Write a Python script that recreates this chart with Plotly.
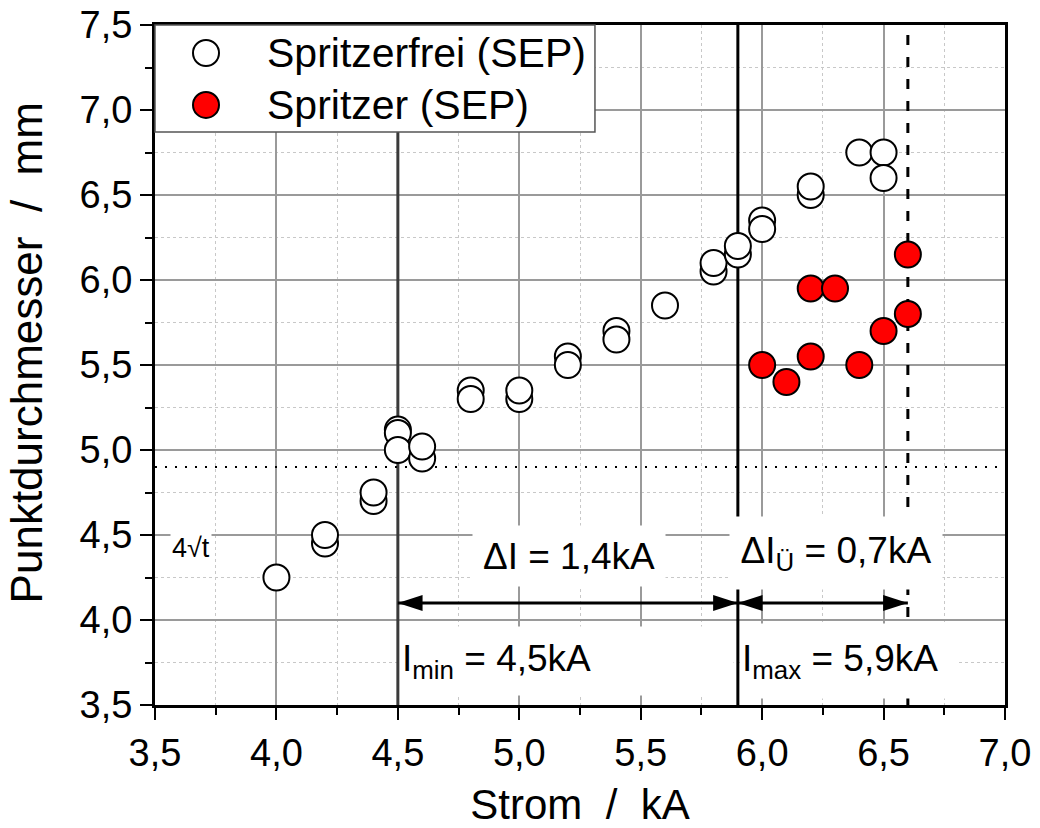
import plotly.graph_objects as go

# ---- data ----
free_x = [4.0, 4.2, 4.2, 4.4, 4.4, 4.5, 4.5, 4.5, 4.6, 4.6, 4.8, 4.8, 5.0, 5.0,
          5.2, 5.2, 5.4, 5.4, 5.6, 5.8, 5.8, 5.9, 5.9, 6.0, 6.0, 6.2, 6.2, 6.4, 6.5, 6.5]
free_y = [4.25, 4.45, 4.50, 4.70, 4.75, 5.12, 5.10, 5.00, 4.95, 5.02, 5.35, 5.30, 5.30, 5.35,
          5.55, 5.50, 5.70, 5.65, 5.85, 6.05, 6.10, 6.15, 6.20, 6.35, 6.30, 6.50, 6.55, 6.75, 6.75, 6.60]

spl_x = [6.0, 6.1, 6.2, 6.2, 6.3, 6.4, 6.5, 6.6, 6.6]
spl_y = [5.50, 5.40, 5.55, 5.95, 5.95, 5.50, 5.70, 5.80, 6.15]

x_tickvals = [3.5, 4.0, 4.5, 5.0, 5.5, 6.0, 6.5, 7.0]
x_ticktext = ["3,5", "4,0", "4,5", "5,0", "5,5", "6,0", "6,5", "7,0"]
y_tickvals = [3.5, 4.0, 4.5, 5.0, 5.5, 6.0, 6.5, 7.0, 7.5]
y_ticktext = ["3,5", "4,0", "4,5", "5,0", "5,5", "6,0", "6,5", "7,0", "7,5"]

i_min = 4.5
i_max = 5.9
i_ue = 6.6
d_limit = 4.9
arrow_y = 4.1

names = ["Spritzerfrei (SEP)", "Spritzer (SEP)"]

FONT = "Liberation Sans, Arial, sans-serif"

fig = go.Figure()
fig.add_trace(go.Scatter(x=free_x, y=free_y, mode="markers", name=names[0], showlegend=False,
                         marker=dict(size=26, color="white", line=dict(color="black", width=2))))
fig.add_trace(go.Scatter(x=spl_x, y=spl_y, mode="markers", name=names[1], showlegend=False,
                         marker=dict(size=26, color="#ff0000", line=dict(color="black", width=2))))

# double-headed dimension arrows
for a0, a1 in [(i_min, i_max), (i_max, i_ue)]:
    fig.add_trace(go.Scatter(x=[a0, a1], y=[arrow_y, arrow_y], mode="lines+markers", showlegend=False,
                             hoverinfo="skip", line=dict(color="black", width=3),
                             marker=dict(symbol="arrow", size=26, angle=[-90, 90], color="black",
                                         line=dict(width=0))))

shapes = [
    dict(type="line", xref="x", yref="y", x0=i_min, x1=i_min, y0=3.5, y1=7.5,
         line=dict(color="#3a3a3a", width=3), layer="between"),
    dict(type="line", xref="x", yref="y", x0=i_max, x1=i_max, y0=3.5, y1=7.5,
         line=dict(color="black", width=3), layer="between"),
    dict(type="line", xref="x", yref="y", x0=i_ue, x1=i_ue, y0=3.5, y1=7.5,
         line=dict(color="black", width=3, dash="10px,12px"), layer="between"),
    dict(type="line", xref="x", yref="y", x0=3.5, x1=7.0, y0=d_limit, y1=d_limit,
         line=dict(color="black", width=2, dash="2px,8px"), layer="between"),
    # custom legend box
    dict(type="rect", xref="paper", yref="paper", x0=0.0, x1=0.5176, y0=0.8426, y1=1.0,
         fillcolor="white", line=dict(color="#555555", width=1.5), layer="above"),
]
leg_y = [0.9588, 0.8824]
leg_fill = ["white", "#ff0000"]
for yy, fc in zip(leg_y, leg_fill):
    shapes.append(dict(type="circle", xref="paper", yref="paper", xsizemode="pixel", ysizemode="pixel",
                       xanchor=0.06, yanchor=yy, x0=-13, x1=13, y0=-13, y1=13,
                       fillcolor=fc, line=dict(color="black", width=2), layer="above"))

annotations = []
for yy, nm in zip(leg_y, names):
    annotations.append(dict(xref="paper", yref="paper", x=0.1294, y=yy, text=nm, showarrow=False,
                            xanchor="left", yanchor="middle", font=dict(size=41, color="black", family=FONT)))

box_font = dict(size=37, color="black", family=FONT)
annotations += [
    dict(xref="x", yref="y", x=5.2027, y=4.376, text="ΔI = 1,4kA", showarrow=False,
         bgcolor="white", width=190, height=58, font=box_font),
    dict(xref="x", yref="y", x=6.304, y=4.394, text="ΔI<sub>Ü</sub> = 0,7kA", showarrow=False,
         bgcolor="white", width=210, height=70, font=box_font),
    dict(xref="x", yref="y", x=i_min + 0.008, y=3.759, text="I<sub>min</sub> = 4,5kA", showarrow=False,
         xanchor="left", align="left", bgcolor="white", width=330, height=66, font=box_font),
    dict(xref="x", yref="y", x=i_max + 0.008, y=3.76, text="I<sub>max</sub> = 5,9kA", showarrow=False,
         xanchor="left", align="left", bgcolor="white", width=215, height=72, font=box_font),
    dict(xref="x", yref="y", x=3.56, y=4.424, text="4√t", showarrow=False, xanchor="left",
         bgcolor="white", font=dict(size=27, color="black", family=FONT)),
]

axis_common = dict(
    showline=True, linecolor="black", linewidth=3, mirror=True,
    ticks="outside", ticklen=12, tickwidth=2, tickcolor="black",
    showgrid=True, gridcolor="#9a9a9a", gridwidth=1.5,
    zeroline=False, automargin=False,
    tickfont=dict(size=38, color="black", family=FONT),
    minor=dict(dtick=0.25, ticks="outside", ticklen=7, tickwidth=2, tickcolor="black",
               showgrid=True, gridcolor="#c8c8c8", gridwidth=1, griddash="3px,3px"),
)

fig.update_layout(
    width=1040, height=828,
    margin=dict(l=155, r=35, t=25, b=123),
    paper_bgcolor="white", plot_bgcolor="white",
    font=dict(family=FONT, color="black"),
    shapes=shapes, annotations=annotations,
    xaxis=dict(range=[3.5, 7.0], tickvals=x_tickvals, ticktext=x_ticktext,
               title=dict(text="Strom&nbsp;&nbsp;/&nbsp;&nbsp;kA", font=dict(size=42, family=FONT), standoff=22),
               **axis_common),
    yaxis=dict(range=[3.5, 7.5], tickvals=y_tickvals, ticktext=y_ticktext,
               title=dict(text="&nbsp;&nbsp;Punktdurchmesser&nbsp;&nbsp;/&nbsp;&nbsp;mm",
                          font=dict(size=44, family=FONT), standoff=24),
               **axis_common),
)

fig.write_html("out.html")
